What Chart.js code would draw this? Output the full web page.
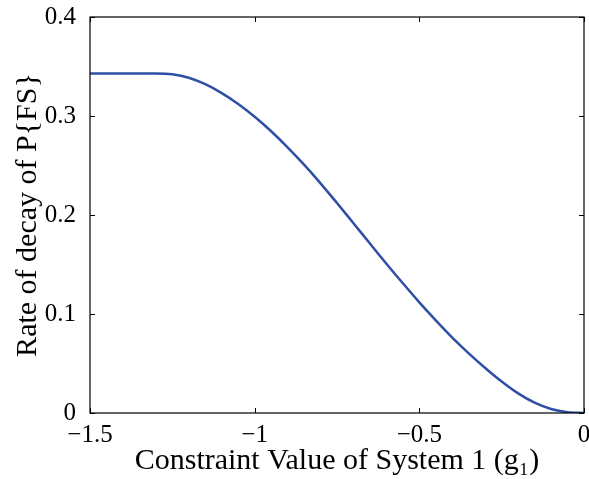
<!DOCTYPE html>
<html>
<head>
<meta charset="utf-8">
<script src="https://cdn.jsdelivr.net/npm/chart.js@4/dist/chart.umd.min.js"></script>
<style>
  html, body { margin: 0; padding: 0; background: #fff; }
  #wrap { width: 589px; height: 479px; }
</style>
</head>
<body>
<div id="wrap"><canvas id="decayChart" width="589" height="479"></canvas></div>
<script>
// valores
const constraintValues = [-1.5, -1.4, -1.3, -1.25, -1.2, -1.15, -1.1, -1.05, -1.0, -0.95, -0.9, -0.85, -0.8, -0.75, -0.7, -0.65, -0.6, -0.55, -0.5, -0.45, -0.4, -0.35, -0.3, -0.25, -0.2, -0.15, -0.1, -0.05, 0];
const decayRate = [0.343, 0.343, 0.343, 0.3422, 0.3387, 0.3321, 0.3231, 0.3121, 0.2992, 0.2846, 0.2684, 0.2508, 0.232, 0.2121, 0.1917, 0.1712, 0.1508, 0.131, 0.1118, 0.0936, 0.0762, 0.0603, 0.0455, 0.0318, 0.0198, 0.0104, 0.004, 0.0008, 0];
const xTicks = [-1.5, -1, -0.5, 0];
const yTicks = [0, 0.1, 0.2, 0.3, 0.4];

const serif = '"Liberation Serif", "DejaVu Serif", serif';

// ticks hacia adentro en los cuatro lados + marco
const boxPlugin = {
    id: 'boxTicks',
    afterDatasetsDraw(chart) {
        const { ctx, chartArea: a, scales } = chart;
        const len = 5;
        ctx.save();
        ctx.strokeStyle = '#000';
        ctx.lineWidth = 1;
        ctx.beginPath();
        xTicks.forEach(v => {
            const px = Math.round(scales.x.getPixelForValue(v)) + 0.5;
            ctx.moveTo(px, a.bottom); ctx.lineTo(px, a.bottom - len);
            ctx.moveTo(px, a.top); ctx.lineTo(px, a.top + len);
        });
        yTicks.forEach(v => {
            const py = Math.round(scales.y.getPixelForValue(v)) + 0.5;
            ctx.moveTo(a.left, py); ctx.lineTo(a.left + len, py);
            ctx.moveTo(a.right, py); ctx.lineTo(a.right - len, py);
        });
        ctx.stroke();
        ctx.lineWidth = 1.2;
        ctx.strokeRect(a.left, a.top, a.right - a.left, a.bottom - a.top);
        ctx.restore();
    }
};

const fixedX = { height: 66 };
const fixedY = { width: 90 };

new Chart(document.getElementById('decayChart'), {
    type: 'line',
    data: {
        datasets: [{
            data: constraintValues.map((x, i) => ({ x: x, y: decayRate[i] })),
            borderColor: '#2f4fa6',
            borderWidth: 2.5,
            pointRadius: 0,
            fill: false,
            cubicInterpolationMode: 'monotone'
        }]
    },
    options: {
        responsive: false,
        animation: false,
        layout: { padding: { top: 17, right: 5, left: 0, bottom: 0 } },
        plugins: { legend: { display: false }, tooltip: { enabled: false } },
        scales: {
            x: {
                type: 'linear',
                min: -1.5,
                max: 0,
                afterBuildTicks: s => { s.ticks = xTicks.map(v => ({ value: v })); },
                afterFit: s => { s.height = fixedX.height; s.paddingLeft = 0; s.paddingRight = 0; },
                grid: { display: false },
                border: { display: false },
                ticks: {
                    color: '#000',
                    padding: -1,
                    font: { family: serif, size: 25 },
                    callback: v => v === 0 ? '0' : '\u2212' + String(Math.abs(v))
                },
                title: {
                    display: true,
                    text: 'Constraint Value of System 1 (g\u2081)',
                    color: '#000',
                    padding: { top: 4, bottom: 0 },
                    font: { family: serif, size: 30 }
                }
            },
            y: {
                min: 0,
                max: 0.4,
                afterBuildTicks: s => { s.ticks = yTicks.map(v => ({ value: v })); },
                afterFit: s => { s.width = fixedY.width; s.paddingTop = 0; s.paddingBottom = 0; },
                grid: { display: false },
                border: { display: false },
                ticks: {
                    color: '#000',
                    padding: 6,
                    font: { family: serif, size: 25 },
                    callback: v => String(v)
                },
                title: {
                    display: true,
                    text: 'Rate of decay of P{FS}',
                    color: '#000',
                    padding: { top: 10, bottom: 0 },
                    font: { family: serif, size: 30 }
                }
            }
        }
    },
    plugins: [boxPlugin]
});
</script>
</body>
</html>
